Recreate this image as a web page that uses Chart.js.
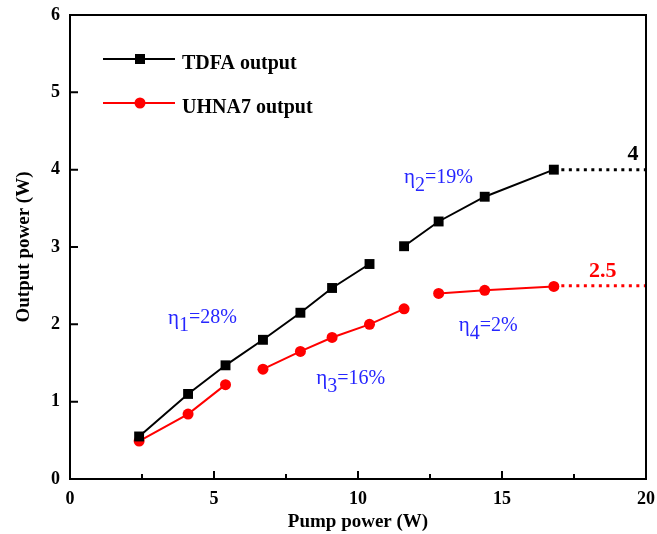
<!DOCTYPE html>
<html>
<head>
<meta charset="utf-8">
<script src="https://cdn.jsdelivr.net/npm/chart.js@4/dist/chart.umd.min.js"></script>
<style>
  html, body { margin: 0; padding: 0; background: #fff; }
  #wrap { width: 657px; height: 534px; }
</style>
</head>
<body>
<div id="wrap"><canvas id="c" width="657" height="534"></canvas></div>
<script>
// ── Data ─────────────────────────────────────────────────────────────────────
const pump   = [2.4, 4.1, 5.4, 6.7, 8.0, 9.1, 10.4, 11.6, 12.8, 14.4, 16.8];
const tdfa   = [0.55, 1.10, 1.47, 1.80, 2.15, 2.47, 2.78, 3.01, 3.33, 3.65, 4.00];
const uhna7  = [0.49, 0.84, 1.22, 1.42, 1.65, 1.83, 2.00, 2.20, 2.40, 2.44, 2.49];
// segments left undrawn (index of first point of the gap)
const tdfaBreaks  = [6];
const uhna7Breaks = [2, 7];
// dotted saturation levels
const satX    = [16.8, 20];
const tdfaSat = 4;
const uhnaSat = 2.5;
const xTicks  = [0, 5, 10, 15, 20];
const xMinor  = [2.5, 7.5, 12.5, 17.5];
const yTicks  = [0, 1, 2, 3, 4, 5, 6];
// efficiency notes: [x, y, subscript, value]
const etas = [
  [3.4, 2.08, '1', '=28%'],
  [11.6, 3.90, '2', '=19%'],
  [8.55, 1.30, '3', '=16%'],
  [13.5, 1.98, '4', '=2%'],
];

const SERIF = '"Liberation Serif", "Times New Roman", serif';
const BLUE  = '#2626ff';

const pts = ys => pump.map((x, i) => ({ x, y: ys[i] }));
const segColor = (breaks, col) => ctx => breaks.includes(ctx.p0DataIndex) ? 'transparent' : col;
const noPad = s => { s.paddingLeft = 0; s.paddingRight = 0; s.paddingTop = 0; s.paddingBottom = 0; };

// ── Frame, inward ticks, legend and notes ───────────────────────────────────
const decor = {
  id: 'decor',
  afterDraw(chart) {
    const { ctx, chartArea: a, scales: { x, y } } = chart;
    ctx.save();
    ctx.strokeStyle = '#000';
    ctx.lineWidth = 2;
    ctx.strokeRect(a.left, a.top, a.right - a.left, a.bottom - a.top);

    ctx.beginPath();
    xTicks.forEach(v => { const px = x.getPixelForValue(v); ctx.moveTo(px, a.bottom); ctx.lineTo(px, a.bottom - 8); });
    xMinor.forEach(v => { const px = x.getPixelForValue(v); ctx.moveTo(px, a.bottom); ctx.lineTo(px, a.bottom - 5); });
    yTicks.forEach(v => { const py = y.getPixelForValue(v); ctx.moveTo(a.left, py); ctx.lineTo(a.left + 8, py); });
    ctx.stroke();

    // legend
    const leg = [['TDFA output', '#000', 'rect', 59], ['UHNA7 output', '#ff0000', 'circle', 103]];
    leg.forEach(([txt, col, shape, ly]) => {
      ctx.strokeStyle = col; ctx.fillStyle = col; ctx.lineWidth = 2;
      ctx.beginPath(); ctx.moveTo(103, ly); ctx.lineTo(175, ly); ctx.stroke();
      ctx.beginPath();
      if (shape === 'rect') ctx.rect(135, ly - 5, 10, 10);
      else ctx.arc(140, ly, 5.5, 0, Math.PI * 2);
      ctx.fill();
      ctx.fillStyle = '#000';
      ctx.font = 'bold 20px ' + SERIF;
      ctx.textBaseline = 'middle';
      ctx.fillText(txt, 182, ly + 5);
    });

    // level labels
    ctx.textAlign = 'center';
    ctx.textBaseline = 'middle';
    ctx.font = 'bold 22px ' + SERIF;
    ctx.fillStyle = '#000';
    ctx.fillText('4', x.getPixelForValue(19.55), y.getPixelForValue(tdfaSat) - 15);
    ctx.fillStyle = '#ff0000';
    ctx.fillText('2.5', x.getPixelForValue(18.5), y.getPixelForValue(uhnaSat) - 14);

    // efficiency notes
    ctx.textAlign = 'left';
    ctx.fillStyle = BLUE;
    etas.forEach(([vx, vy, sub, val]) => {
      let px = x.getPixelForValue(vx);
      const py = y.getPixelForValue(vy);
      ctx.font = '21px ' + SERIF;
      ctx.fillText('\u03b7', px, py);
      px += ctx.measureText('\u03b7').width;
      ctx.font = '20px ' + SERIF;
      ctx.fillText(sub, px, py + 8);
      px += ctx.measureText(sub).width;
      ctx.fillText(val, px, py);
    });
    ctx.restore();
  }
};

new Chart(document.getElementById('c'), {
  type: 'line',
  data: {
    datasets: [
      {
        label: 'TDFA output',
        data: pts(tdfa),
        borderColor: '#000', backgroundColor: '#000',
        borderWidth: 2, pointStyle: 'rect', pointRadius: 7, pointBorderWidth: 0,
        segment: { borderColor: segColor(tdfaBreaks, '#000') },
      },
      {
        label: 'UHNA7 output',
        data: pts(uhna7),
        borderColor: '#ff0000', backgroundColor: '#ff0000',
        borderWidth: 2, pointStyle: 'circle', pointRadius: 5.5, pointBorderWidth: 0,
        segment: { borderColor: segColor(uhna7Breaks, '#ff0000') },
      },
      {
        label: 'TDFA level',
        data: satX.map(x => ({ x, y: tdfaSat })),
        borderColor: '#000', borderWidth: 3, borderDash: [3, 4.5],
        pointRadius: 0,
      },
      {
        label: 'UHNA7 level',
        data: satX.map(x => ({ x, y: uhnaSat })),
        borderColor: '#ff0000', borderWidth: 3, borderDash: [3, 4.5],
        pointRadius: 0,
      },
    ]
  },
  options: {
    responsive: false,
    animation: false,
    layout: { padding: { top: 15, right: 11, left: 0, bottom: 0 } },
    plugins: { legend: { display: false }, tooltip: { enabled: false } },
    scales: {
      x: {
        type: 'linear', min: 0, max: 20,
        afterBuildTicks: s => { s.ticks = xTicks.map(v => ({ value: v })); },
        ticks: { color: '#000', font: { family: SERIF, size: 18, weight: 'bold' }, padding: 10, maxRotation: 0 },
        grid: { display: false, drawTicks: false },
        border: { display: false },
        title: { display: true, text: 'Pump power (W)', color: '#000',
                 font: { family: SERIF, size: 19, weight: 'bold' }, padding: { top: 0, bottom: 1 } },
        afterFit: s => { s.height = 55; noPad(s); },
      },
      y: {
        min: 0, max: 6,
        afterBuildTicks: s => { s.ticks = yTicks.map(v => ({ value: v })); },
        ticks: { color: '#000', font: { family: SERIF, size: 18, weight: 'bold' }, padding: 10 },
        grid: { display: false, drawTicks: false },
        border: { display: false },
        title: { display: true, text: 'Output power (W)', color: '#000',
                 font: { family: SERIF, size: 19, weight: 'bold' }, padding: { top: 13, bottom: 0 } },
        afterFit: s => { s.width = 70; noPad(s); },
      },
    },
  },
  plugins: [decor],
});
</script>
</body>
</html>
